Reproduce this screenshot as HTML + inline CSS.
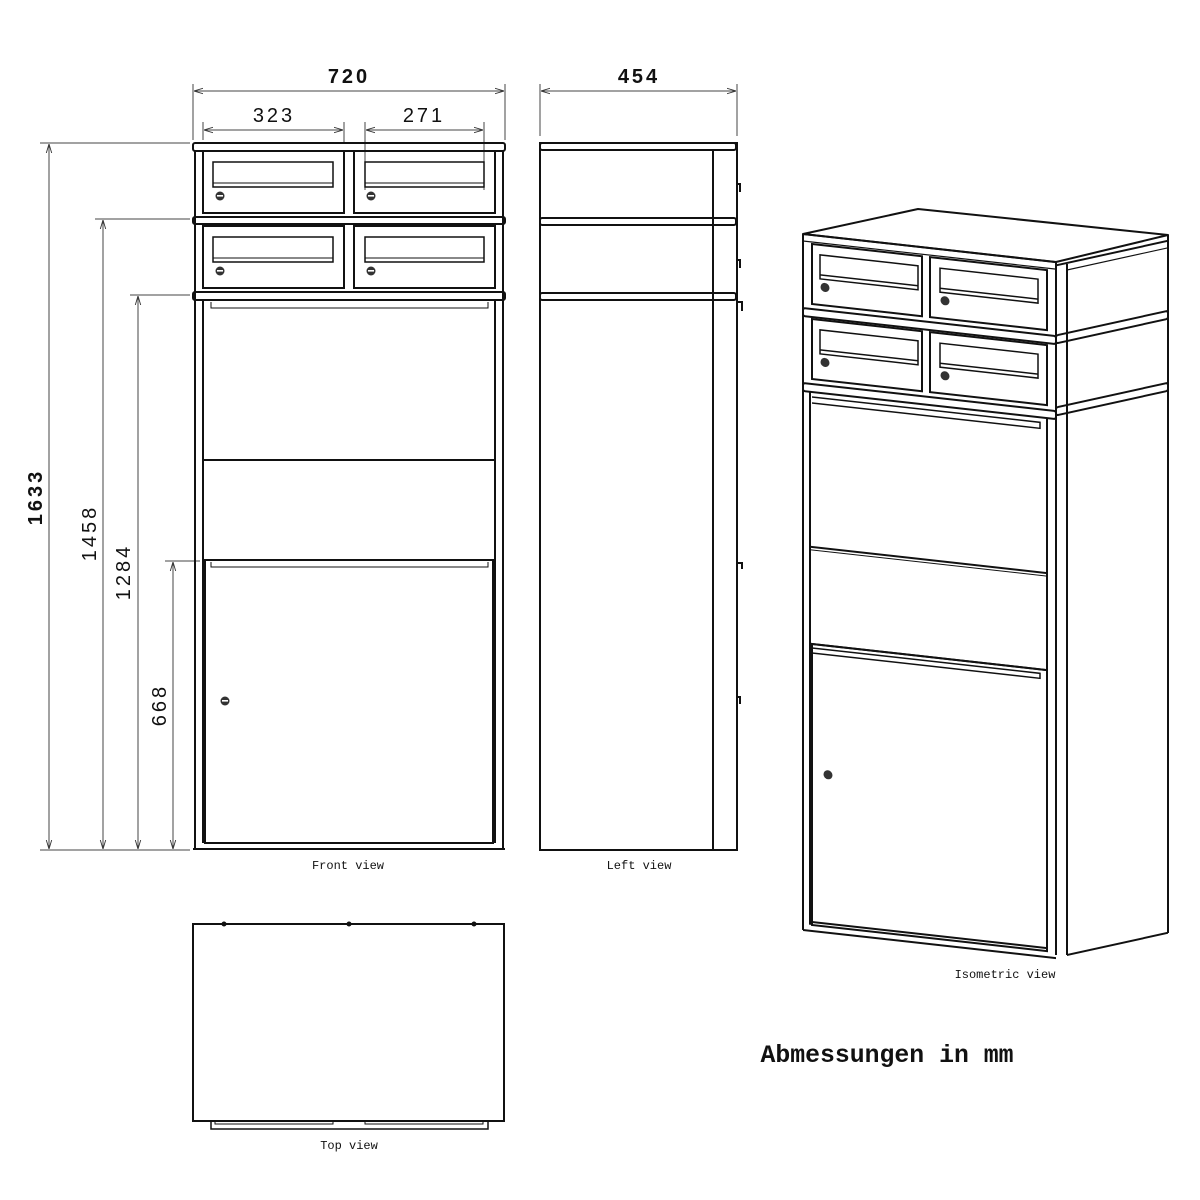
<!DOCTYPE html>
<html><head><meta charset="utf-8"><style>
html,body{margin:0;padding:0;background:#fff}
svg{display:block}
text{font-family:"Liberation Sans",sans-serif;fill:#111}
.m{font-family:"Liberation Mono",monospace}
</style></head><body>
<svg width="1200" height="1200" viewBox="0 0 1200 1200" xmlns="http://www.w3.org/2000/svg">
<defs>
<marker id="a" viewBox="0 0 10 10" refX="10" refY="5" markerWidth="9" markerHeight="9" orient="auto-start-reverse"><path d="M0,2 L10,5 L0,8" fill="none" stroke="#333" stroke-width="1"/></marker>
</defs>
<g stroke="#444" stroke-width="1" fill="none">
<line x1="193" y1="84" x2="193" y2="140"/><line x1="505" y1="84" x2="505" y2="140"/>
<line x1="194" y1="91" x2="504" y2="91" marker-start="url(#a)" marker-end="url(#a)"/>
<line x1="203" y1="122" x2="203" y2="140"/><line x1="344" y1="122" x2="344" y2="143"/>
<line x1="204" y1="130" x2="343" y2="130" marker-start="url(#a)" marker-end="url(#a)"/>
<line x1="365" y1="122" x2="365" y2="190"/><line x1="484" y1="122" x2="484" y2="190"/>
<line x1="366" y1="130" x2="483" y2="130" marker-start="url(#a)" marker-end="url(#a)"/>
<line x1="540" y1="84" x2="540" y2="136"/><line x1="737" y1="84" x2="737" y2="136"/>
<line x1="541" y1="91" x2="736" y2="91" marker-start="url(#a)" marker-end="url(#a)"/>
<line x1="40" y1="143" x2="190" y2="143"/><line x1="40" y1="850" x2="190" y2="850"/>
<line x1="49" y1="144" x2="49" y2="849" marker-start="url(#a)" marker-end="url(#a)"/>
<line x1="95" y1="219" x2="190" y2="219"/>
<line x1="103" y1="220" x2="103" y2="849" marker-start="url(#a)" marker-end="url(#a)"/>
<line x1="130" y1="295" x2="190" y2="295"/>
<line x1="138" y1="296" x2="138" y2="849" marker-start="url(#a)" marker-end="url(#a)"/>
<line x1="165" y1="561" x2="200" y2="561"/>
<line x1="173" y1="562" x2="173" y2="849" marker-start="url(#a)" marker-end="url(#a)"/>
</g>
<text x="349" y="83" font-size="20" font-weight="bold" text-anchor="middle" letter-spacing="3">720</text>
<text x="274" y="122" font-size="20" text-anchor="middle" letter-spacing="3">323</text>
<text x="424" y="122" font-size="20" text-anchor="middle" letter-spacing="3">271</text>
<text x="639" y="83" font-size="20" font-weight="bold" text-anchor="middle" letter-spacing="3">454</text>
<text transform="translate(42,497) rotate(-90)" font-size="20" font-weight="bold" text-anchor="middle" letter-spacing="3">1633</text>
<text transform="translate(96,533) rotate(-90)" font-size="20" text-anchor="middle" letter-spacing="3">1458</text>
<text transform="translate(130,572) rotate(-90)" font-size="20" text-anchor="middle" letter-spacing="3">1284</text>
<text transform="translate(166,705) rotate(-90)" font-size="20" text-anchor="middle" letter-spacing="3">668</text>

<g stroke="#111" stroke-width="2" fill="none">
<line x1="195" y1="151" x2="195" y2="849"/><line x1="503" y1="151" x2="503" y2="849"/>
<line x1="193" y1="849" x2="505" y2="849"/>
<rect x="193" y="143" width="312" height="8" rx="2"/>
<rect x="193" y="217" width="312" height="7" rx="2"/>
<rect x="193" y="292" width="312" height="8" rx="2"/>
<rect x="203" y="151" width="141" height="62"/><rect x="354" y="151" width="141" height="62"/>
<rect x="203" y="226" width="141" height="62"/><rect x="354" y="226" width="141" height="62"/>
<rect x="213" y="162" width="120" height="25" stroke-width="1.5"/><line x1="213" y1="183" x2="333" y2="183" stroke-width="1"/>
<rect x="365" y="162" width="119" height="25" stroke-width="1.5"/><line x1="365" y1="183" x2="484" y2="183" stroke-width="1"/>
<rect x="213" y="237" width="120" height="25" stroke-width="1.5"/><line x1="213" y1="258" x2="333" y2="258" stroke-width="1"/>
<rect x="365" y="237" width="119" height="25" stroke-width="1.5"/><line x1="365" y1="258" x2="484" y2="258" stroke-width="1"/>
<line x1="203" y1="300" x2="203" y2="843"/><line x1="495" y1="300" x2="495" y2="843"/>
<line x1="203" y1="460" x2="495" y2="460"/>
<rect x="205" y="560" width="288" height="283"/>
<path d="M211,302 V308 H488 V302" stroke-width="1"/>
<path d="M211,562 V567 H488 V562" stroke-width="1"/>
</g>
<g fill="#333" stroke="none">
<circle cx="220" cy="196" r="4.5"/><circle cx="371" cy="196" r="4.5"/>
<circle cx="220" cy="271" r="4.5"/><circle cx="371" cy="271" r="4.5"/>
<circle cx="225" cy="701" r="4.5"/>
</g>
<g fill="#fff"><rect x="217" y="195" width="6" height="1.6"/><rect x="368" y="195" width="6" height="1.6"/><rect x="217" y="270" width="6" height="1.6"/><rect x="368" y="270" width="6" height="1.6"/><rect x="222" y="700" width="6" height="1.6"/></g>
<text x="348" y="869" class="m" font-size="12" text-anchor="middle">Front view</text>

<g stroke="#111" stroke-width="2" fill="none">
<rect x="540" y="143" width="197" height="707"/>
<rect x="540" y="143" width="196" height="7" rx="2"/>
<rect x="540" y="218" width="196" height="7" rx="2"/>
<rect x="540" y="293" width="196" height="7" rx="2"/>
<line x1="713" y1="150" x2="713" y2="849"/>
<path d="M737,184 h3 v8" /><path d="M737,260 h3 v8"/><path d="M737,302 h5 v9"/><path d="M737,563 h5 v6"/><path d="M737,697 h3 v7"/>
</g>
<text x="639" y="869" class="m" font-size="12" text-anchor="middle">Left view</text>

<g stroke="#111" stroke-width="2" fill="none">
<rect x="193" y="924" width="311" height="197"/>
<path d="M211,1121 V1129 H488 V1121" stroke-width="1.5"/>
<path d="M215,1121 V1124 H333 V1121 M365,1121 V1124 H483 V1121" stroke-width="1"/>
</g>
<g fill="#111"><circle cx="224" cy="924" r="2.5"/><circle cx="349" cy="924" r="2.5"/><circle cx="474" cy="924" r="2.5"/></g>
<text x="349" y="1149" class="m" font-size="12" text-anchor="middle">Top view</text>

<g stroke="#111" stroke-width="2" fill="none" stroke-linejoin="round">
<path d="M803,234 L918,209 L1168,235 L1056,262 Z"/>
<line x1="1168" y1="235" x2="1168" y2="933"/>
<line x1="1067" y1="264" x2="1067" y2="955"/>
<line x1="1056" y1="262" x2="1056" y2="955"/>
</g>
<g transform="translate(803,0) skewY(6.34) translate(-803,0)" stroke="#111" stroke-width="2" fill="none">
<line x1="803" y1="234" x2="803" y2="930"/>
<line x1="803" y1="234" x2="1056" y2="234"/>
<line x1="803" y1="241" x2="1056" y2="241" stroke-width="1.2"/>
<rect x="803" y="308" width="253" height="8" rx="2"/>
<rect x="803" y="383" width="253" height="8" rx="2"/>
<rect x="812" y="243" width="110" height="60"/><rect x="930" y="243" width="117" height="60"/>
<rect x="812" y="318" width="110" height="60"/><rect x="930" y="318" width="117" height="60"/>
<rect x="820" y="253" width="98" height="24" stroke-width="1.5"/><line x1="820" y1="273" x2="918" y2="273" stroke-width="1.5"/>
<rect x="940" y="253" width="98" height="24" stroke-width="1.5"/><line x1="940" y1="273" x2="1038" y2="273" stroke-width="1.5"/>
<rect x="820" y="328" width="98" height="24" stroke-width="1.5"/><line x1="820" y1="348" x2="918" y2="348" stroke-width="1.5"/>
<rect x="940" y="328" width="98" height="24" stroke-width="1.5"/><line x1="940" y1="348" x2="1038" y2="348" stroke-width="1.5"/>
<line x1="810" y1="391" x2="810" y2="924"/><line x1="1047" y1="391" x2="1047" y2="924"/>
<path d="M812,396 H1040 V402 H812" stroke-width="1.5"/>
<line x1="810" y1="546" x2="1047" y2="546"/>
<line x1="810" y1="549" x2="1047" y2="549" stroke-width="1"/>
<line x1="810" y1="643" x2="1047" y2="643"/>
<path d="M812,647 H1040 V652 H812" stroke-width="1.5"/>
<rect x="812" y="643" width="235" height="281"/>
<line x1="812" y1="921" x2="1047" y2="921"/>
<line x1="803" y1="930" x2="1056" y2="930"/>
</g>
<g transform="translate(803,0) skewY(6.34) translate(-803,0)" fill="#333">
<circle cx="825" cy="285" r="4.5"/><circle cx="945" cy="285" r="4.5"/>
<circle cx="825" cy="360" r="4.5"/><circle cx="945" cy="360" r="4.5"/>
<circle cx="828" cy="772" r="4.5"/>
</g>
<g transform="translate(1067,0) skewY(-12.4) translate(-1067,0)" stroke="#111" stroke-width="2" fill="none">
<line x1="1056" y1="263" x2="1168" y2="263"/>
<line x1="1067" y1="270" x2="1168" y2="270" stroke-width="1.2"/>
<rect x="1056" y="333" width="112" height="8" rx="2"/>
<rect x="1056" y="405" width="112" height="8" rx="2"/>
<line x1="1067" y1="955" x2="1168" y2="955"/>
</g>
<text x="1005" y="978" class="m" font-size="12" text-anchor="middle">Isometric view</text>

<text x="887" y="1062" class="m" font-size="24.8" font-weight="bold" text-anchor="middle">Abmessungen in mm</text>
</svg>
</body></html>
